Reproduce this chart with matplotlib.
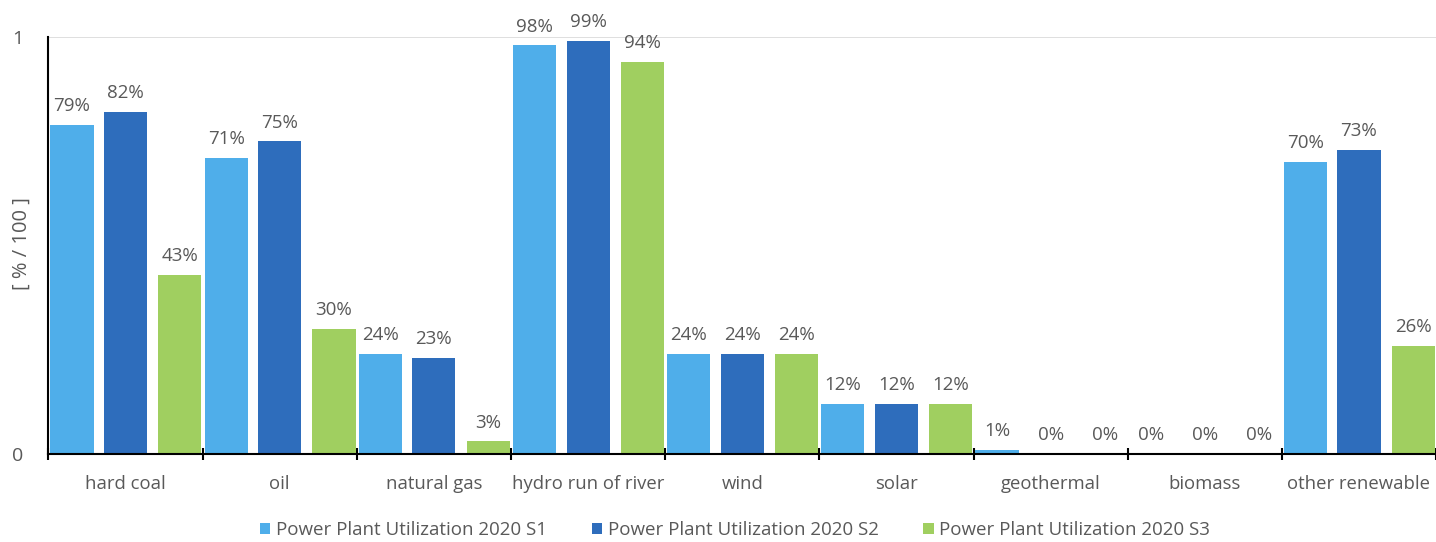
import matplotlib
matplotlib.use("Agg")
import matplotlib.pyplot as plt
import numpy as np

categories = ["hard coal", "oil", "natural gas", "hydro run of river", "wind",
              "solar", "geothermal", "biomass", "other renewable"]
s1 = [0.79, 0.71, 0.24, 0.98, 0.24, 0.12, 0.01, 0.0, 0.70]
s2 = [0.82, 0.75, 0.23, 0.99, 0.24, 0.12, 0.0, 0.0, 0.73]
s3 = [0.43, 0.30, 0.03, 0.94, 0.24, 0.12, 0.0, 0.0, 0.26]
series_names = ["Power Plant Utilization 2020 S1",
                "Power Plant Utilization 2020 S2",
                "Power Plant Utilization 2020 S3"]
colors = ["#4FAEEA", "#2E6DBC", "#A0CF60"]

plt.rcParams["font.family"] = ["Open Sans", "DejaVu Sans"]
text_color = "#595959"

fig = plt.figure(figsize=(14.36, 5.42), dpi=100)
ax = fig.add_axes([48.5 / 1436, 1 - 454 / 542, 1 - 48.5 / 1436, (454 - 37) / 542])

x = np.arange(len(categories))
width = 0.28
offsets = [-0.348, 0.0, 0.352]
for vals, off, col, name in zip([s1, s2, s3], offsets, colors, series_names):
    bars = ax.bar(x + off, vals, width=width, color=col, label=name, zorder=2)
    for b, v in zip(bars, vals):
        ax.annotate(f"{round(v * 100):d}%", (b.get_x() + b.get_width() / 2, v),
                    xytext=(0, 7), textcoords="offset points",
                    ha="center", va="bottom", fontsize=13.5, color=text_color)

ax.set_xlim(-0.5, len(categories) - 0.5)
ax.set_ylim(0, 1)
ax.set_yticks([0, 1])
ax.set_yticklabels(["0", "1"])
ax.tick_params(axis="y", length=0, pad=18, labelsize=14, labelcolor=text_color)
ax.axhline(1, color="#D9D9D9", lw=1.2, zorder=1)

ax.set_xticks(x)
ax.set_xticklabels(categories)
ax.tick_params(axis="x", which="major", length=0, pad=15, labelsize=13.3,
               labelcolor=text_color)
ax.set_xticks(np.arange(-0.5, len(categories) + 0.5, 1), minor=True)
ax.tick_params(axis="x", which="minor", length=8, width=1.5, color="black",
               direction="inout")

for s in ["top", "right"]:
    ax.spines[s].set_visible(False)
ax.spines["left"].set_linewidth(1.5)
ax.spines["bottom"].set_linewidth(1.5)
ax.spines["left"].set_color("black")
ax.spines["bottom"].set_color("black")

fig.text(22 / 1436, 1 - 244 / 542, "[ % / 100 ]", rotation=90, ha="center",
         va="center", fontsize=14.5, color=text_color)

leg = fig.legend(loc="center", bbox_to_anchor=(735 / 1436, 1 - 530 / 542), ncol=3,
                 frameon=False, fontsize=13.5, handlelength=0.55, handleheight=0.55,
                 handletextpad=0.3, columnspacing=2.4)
for t in leg.get_texts():
    t.set_color(text_color)

fig.savefig("out.png", dpi=100)
